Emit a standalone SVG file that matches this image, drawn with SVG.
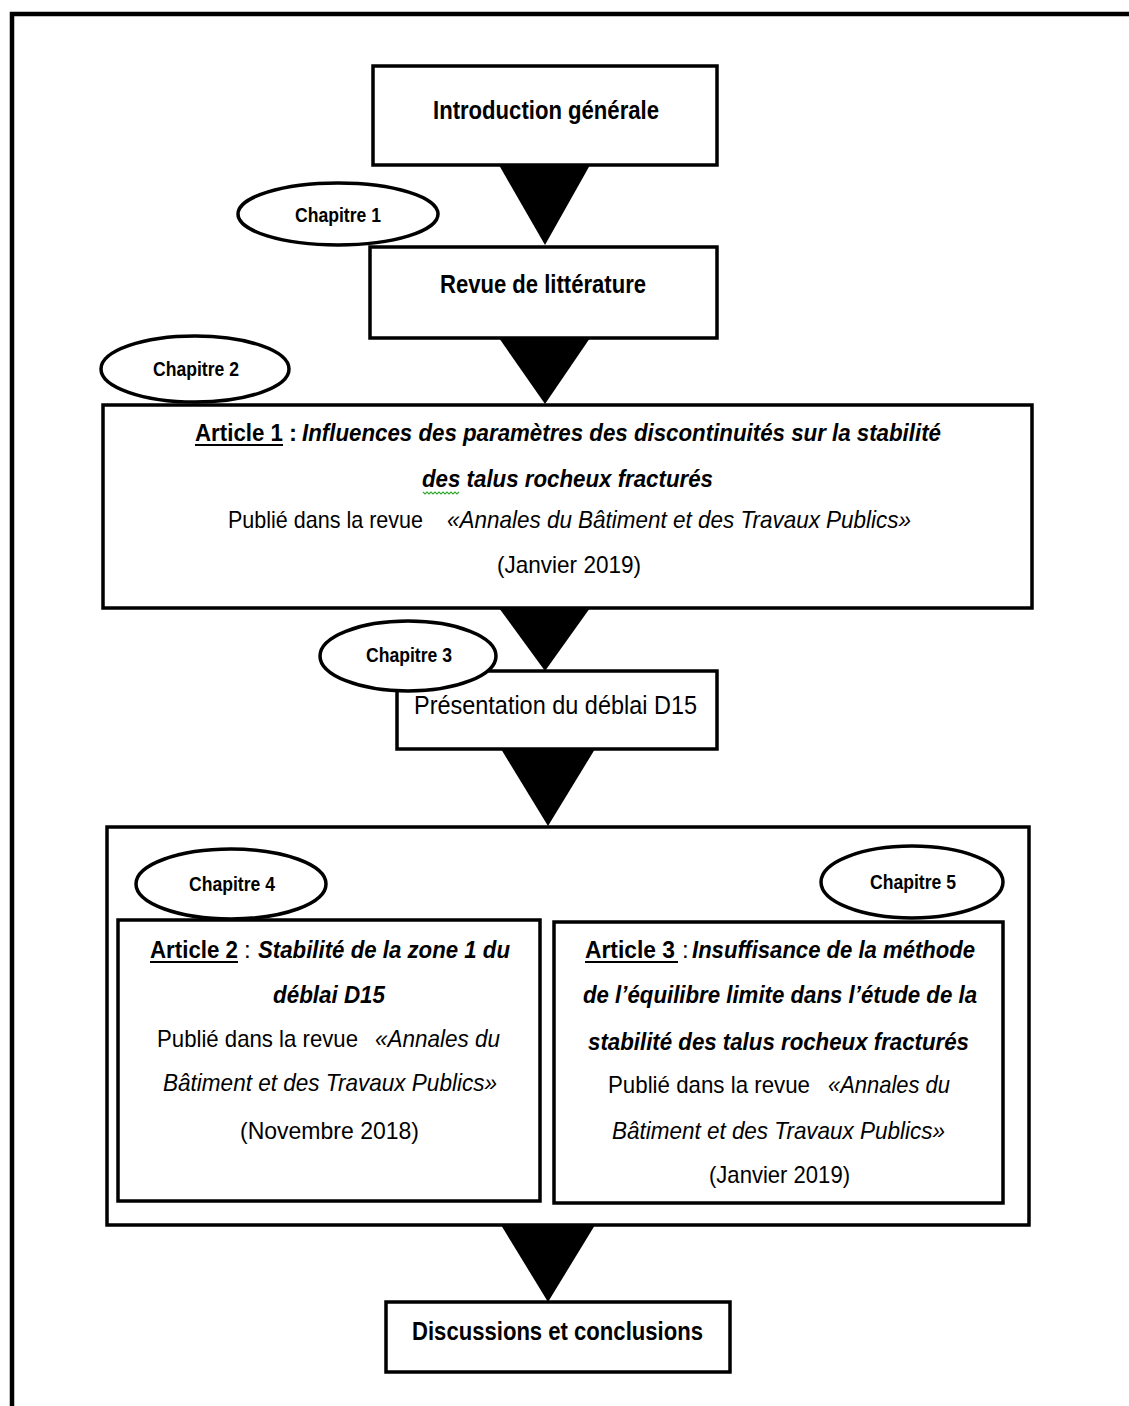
<svg xmlns="http://www.w3.org/2000/svg" width="1129" height="1406" viewBox="0 0 1129 1406">
<style>
.box{fill:#fff;stroke:#000;stroke-width:3.5}
.ell{fill:#fff;stroke:#000;stroke-width:3.5}
.tri{fill:#000}
text{font-family:"Liberation Sans",Arial,sans-serif;fill:#000}
.b{font-weight:bold}
.i{font-style:italic}
.t22{font-size:26px}
.t20{font-size:24px}
.t17{font-size:20px}
.u{stroke:#000;stroke-width:2}
</style>
<rect width="1129" height="1406" fill="#fff"/>
<path d="M12,1406 V14 H1129" fill="none" stroke="#000" stroke-width="4.5"/>

<g id="connectors">
<polygon class="tri" points="499,165 590,165 545,245"/>
<polygon class="tri" points="499,338 590,338 545,404"/>
<polygon class="tri" points="499,608 590,608 545,671"/>
<polygon class="tri" points="501,749 595,749 548,826"/>
<polygon class="tri" points="501,1225 595,1225 548,1302"/>
</g>

<g id="intro">
<rect class="box" x="373" y="66" width="344" height="99"/>
<text class="b t22" x="433" y="119" textLength="226" lengthAdjust="spacingAndGlyphs">Introduction générale</text>
</g>

<g id="revue">
<rect class="box" x="370" y="247" width="347" height="91"/>
<text class="b t22" x="440" y="293" textLength="206" lengthAdjust="spacingAndGlyphs">Revue de littérature</text>
</g>

<g id="chap1">
<ellipse class="ell" cx="338" cy="214" rx="100" ry="31"/>
<text class="b t17" x="295" y="222" textLength="86" lengthAdjust="spacingAndGlyphs">Chapitre 1</text>
</g>

<g id="article1">
<rect class="box" x="103" y="405" width="929" height="203"/>
<text class="b t20" x="195" y="441" textLength="88" lengthAdjust="spacingAndGlyphs">Article 1</text>
<line class="u" x1="195" y1="445" x2="283" y2="445"/>
<text class="b t20" x="289" y="441">:</text>
<text class="b i t20" x="302" y="441" textLength="639" lengthAdjust="spacingAndGlyphs">Influences des paramètres des discontinuités sur la stabilité</text>
<text class="b i t20" x="422" y="487" textLength="291" lengthAdjust="spacingAndGlyphs">des talus rocheux fracturés</text>
<path d="M423,492 l2,2 l2,-2 l2,2 l2,-2 l2,2 l2,-2 l2,2 l2,-2 l2,2 l2,-2 l2,2 l2,-2 l2,2 l2,-2 l2,2 l2,-2 l2,2 l2,-2" fill="none" stroke="#3a3" stroke-width="1.2"/>
<text class="t20" x="228" y="528" textLength="195" lengthAdjust="spacingAndGlyphs">Publié dans la revue</text>
<text class="i t20" x="447" y="528" textLength="464" lengthAdjust="spacingAndGlyphs">«Annales du Bâtiment et des Travaux Publics»</text>
<text class="t20" x="497" y="573" textLength="144" lengthAdjust="spacingAndGlyphs">(Janvier 2019)</text>
</g>

<g id="chap2">
<ellipse class="ell" cx="195" cy="369" rx="94" ry="33"/>
<text class="b t17" x="153" y="376" textLength="86" lengthAdjust="spacingAndGlyphs">Chapitre 2</text>
</g>

<g id="presentation">
<rect class="box" x="397" y="671" width="320" height="78"/>
<text class="t22" x="414" y="714" textLength="283" lengthAdjust="spacingAndGlyphs">Présentation du déblai D15</text>
</g>

<g id="chap3">
<ellipse class="ell" cx="408" cy="656" rx="88" ry="35"/>
<text class="b t17" x="366" y="662" textLength="86" lengthAdjust="spacingAndGlyphs">Chapitre 3</text>
</g>

<g id="group45">
<rect class="box" x="107" y="827" width="922" height="398"/>
</g>

<g id="article2">
<rect class="box" x="118" y="920" width="422" height="281"/>
<text class="b t20" x="150" y="958" textLength="88" lengthAdjust="spacingAndGlyphs">Article 2</text>
<line class="u" x1="150" y1="962" x2="238" y2="962"/>
<text class="t20" x="244" y="958">:</text>
<text class="b i t20" x="258" y="958" textLength="252" lengthAdjust="spacingAndGlyphs">Stabilité de la zone 1 du</text>
<text class="b i t20" x="273" y="1003" textLength="112" lengthAdjust="spacingAndGlyphs">déblai D15</text>
<text class="t20" x="157" y="1047" textLength="201" lengthAdjust="spacingAndGlyphs">Publié dans la revue</text>
<text class="i t20" x="375" y="1047" textLength="125" lengthAdjust="spacingAndGlyphs">«Annales du</text>
<text class="i t20" x="163" y="1091" textLength="334" lengthAdjust="spacingAndGlyphs">Bâtiment et des Travaux Publics»</text>
<text class="t20" x="240" y="1139" textLength="179" lengthAdjust="spacingAndGlyphs">(Novembre  2018)</text>
</g>

<g id="chap4">
<ellipse class="ell" cx="231" cy="884" rx="95" ry="35"/>
<text class="b t17" x="189" y="891" textLength="86" lengthAdjust="spacingAndGlyphs">Chapitre 4</text>
</g>

<g id="article3">
<rect class="box" x="554" y="922" width="449" height="281"/>
<text class="b t20" x="585" y="958" textLength="90" lengthAdjust="spacingAndGlyphs">Article 3</text>
<line class="u" x1="585" y1="962" x2="678" y2="962"/>
<text class="t20" x="682" y="958">:</text>
<text class="b i t20" x="692" y="958" textLength="283" lengthAdjust="spacingAndGlyphs">Insuffisance de la méthode</text>
<text class="b i t20" x="583" y="1003" textLength="394" lengthAdjust="spacingAndGlyphs">de l’équilibre limite dans l’étude de la</text>
<text class="b i t20" x="588" y="1050" textLength="381" lengthAdjust="spacingAndGlyphs">stabilité des talus rocheux fracturés</text>
<text class="t20" x="608" y="1093" textLength="202" lengthAdjust="spacingAndGlyphs">Publié dans la revue</text>
<text class="i t20" x="828" y="1093" textLength="122" lengthAdjust="spacingAndGlyphs">«Annales du</text>
<text class="i t20" x="612" y="1139" textLength="333" lengthAdjust="spacingAndGlyphs">Bâtiment et des Travaux Publics»</text>
<text class="t20" x="709" y="1183" textLength="141" lengthAdjust="spacingAndGlyphs">(Janvier 2019)</text>
</g>

<g id="chap5">
<ellipse class="ell" cx="912" cy="882" rx="91" ry="36"/>
<text class="b t17" x="870" y="889" textLength="86" lengthAdjust="spacingAndGlyphs">Chapitre 5</text>
</g>

<g id="conclusions">
<rect class="box" x="386" y="1302" width="344" height="70"/>
<text class="b t22" x="412" y="1340" textLength="291" lengthAdjust="spacingAndGlyphs">Discussions et conclusions</text>
</g>
</svg>
